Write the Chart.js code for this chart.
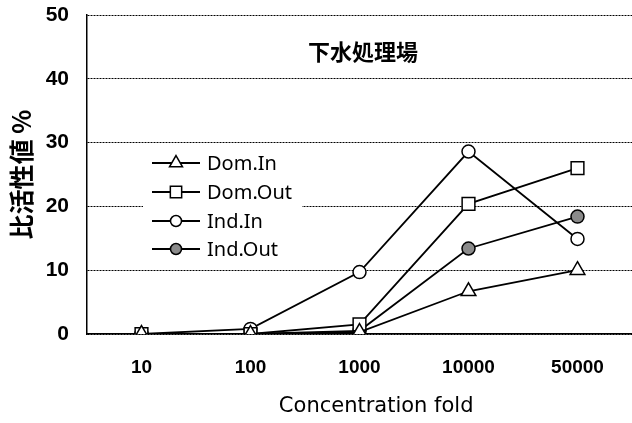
<!DOCTYPE html>
<html>
<head>
<meta charset="utf-8">
<script src="https://cdn.jsdelivr.net/npm/chart.js@4/dist/chart.umd.min.js"></script>
<style>
  html, body { margin: 0; padding: 0; background: #fff; overflow: hidden; }
  #wrap { width: 632px; height: 423px; position: relative; }
  canvas { display: block; }
</style>
</head>
<body>
<div id="wrap"><canvas id="line-chart"></canvas></div>
<script>
var folds = ["10", "100", "1000", "10000", "50000"];
var domIn = [0, 0, 0.3, 6.7, 10];
var domOut = [0, 0, 1.5, 20.4, 26];
var indIn = [0, 0.8, 9.7, 28.6, 14.9];
var indOut = [0, 0, 0.5, 13.4, 18.4];
var yTicks = [0, 10, 20, 30, 40, 50];

var numFont = "'Liberation Sans', Arial, sans-serif";
var jpFont = "'Noto Sans CJK JP', sans-serif";

// legend + title drawn inside the plot area
var insideText = {
  id: 'insideText',
  afterDraw: function (chart) {
    var ctx = chart.ctx;
    ctx.save();
    ctx.fillStyle = '#000';
    ctx.font = "bold 22px " + jpFont;
    ctx.textAlign = 'center';
    ctx.textBaseline = 'middle';
    ctx.fillText("下水処理場", 363, 52);

    // legend box
    ctx.fillStyle = '#fff';
    ctx.fillRect(143, 147, 159, 118);
    var rowY = [163, 192, 221, 249];
    chart.data.datasets.forEach(function (ds, i) {
      var y = rowY[i];
      ctx.strokeStyle = '#000';
      ctx.lineWidth = 1.8;
      ctx.beginPath();
      ctx.moveTo(152, y);
      ctx.lineTo(200, y);
      ctx.stroke();
      ctx.fillStyle = ds.pointBackgroundColor;
      ctx.lineWidth = 1.5;
      Chart.helpers.drawPoint(ctx, {
        pointStyle: ds.pointStyle,
        radius: ds.pointRadius - 1,
        borderWidth: 1.5,
        rotation: 0
      }, 176, y);
      ctx.fillStyle = '#000';
      ctx.font = "20px 'Noto Sans', sans-serif";
      ctx.textAlign = 'left';
      ctx.fillText(ds.label, 207, y + 1);
    });
    ctx.restore();
  }
};

function series(label, data, style, fill, r) {
  return {
    label: label,
    data: data,
    borderColor: '#000',
    borderWidth: 1.8,
    pointStyle: style,
    pointRadius: r,
    pointHoverRadius: r,
    pointBackgroundColor: fill,
    pointBorderColor: '#000',
    pointBorderWidth: 1.5,
    tension: 0,
    fill: false
  };
}

new Chart(document.getElementById("line-chart"), {
  type: 'line',
  data: {
    labels: folds,
    datasets: [
      series("Dom.In", domIn, 'triangle', '#fff', 8.5),
      series("Dom.Out", domOut, 'rect', '#fff', 9),
      series("Ind.In", indIn, 'circle', '#fff', 6.5),
      series("Ind.Out", indOut, 'circle', '#8a8a8a', 6.5)
    ]
  },
  plugins: [insideText],
  options: {
    responsive: true,
    maintainAspectRatio: false,
    animation: false,
    devicePixelRatio: 1,
    layout: { autoPadding: false, padding: { top: 15, right: 0, left: 0, bottom: 0 } },
    plugins: {
      legend: { display: false },
      tooltip: { enabled: false }
    },
    scales: {
      x: {
        offset: true,
        grid: { display: true, drawOnChartArea: false, drawTicks: true, tickLength: 19, tickColor: 'rgba(0,0,0,0)' },
        border: { display: true, color: '#000', width: 1.5 },
        ticks: {
          color: '#000',
          padding: 3,
          font: { family: numFont, size: 19, weight: 'bold' }
        },
        title: {
          display: true,
          text: "     Concentration fold",
          color: '#000',
          padding: { top: 4, bottom: 4 },
          font: { family: "'DejaVu Sans', sans-serif", size: 21 }
        },
        afterFit: function (scale) {
          scale.height = 89;
          scale.paddingLeft = 0;
          scale.paddingRight = 0;
        }
      },
      y: {
        min: 0,
        max: 50,
        afterBuildTicks: function (scale) {
          scale.ticks = yTicks.map(function (v) { return { value: v }; });
        },
        grid: { color: '#000', lineWidth: 1, drawTicks: false },
        border: { display: true, color: '#000', width: 1.5, dash: [2, 1] },
        ticks: {
          color: '#000',
          padding: 18,
          font: { family: numFont, size: 21, weight: 'bold' }
        },
        title: {
          display: true,
          text: "比活性値 %",
          color: '#000',
          padding: { top: 6, bottom: 0 },
          font: { family: jpFont, size: 25, weight: 'bold' }
        },
        afterFit: function (scale) {
          scale.width = 87;
          scale.paddingTop = 0;
          scale.paddingBottom = 0;
        }
      }
    }
  }
});
</script>
</body>
</html>
